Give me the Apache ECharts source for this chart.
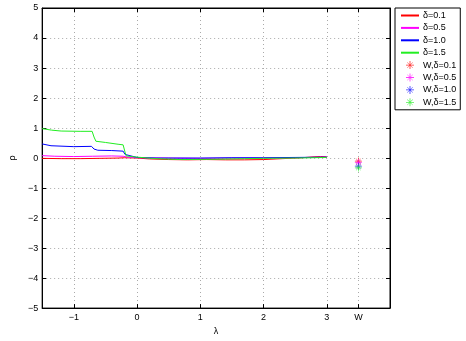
<!DOCTYPE html>
<html>
<head>
<meta charset="utf-8">
<script src="https://cdn.jsdelivr.net/npm/echarts@6/dist/echarts.min.js"></script>
<style>
html, body { margin: 0; padding: 0; background: #fff; }
#main { width: 466px; height: 341px; }
</style>
</head>
<body>
<div id="main"></div>
<script>
// x ticks (W sits at 3.5)
var xTicks = [-1, 0, 1, 2, 3, 3.5];
var W = 3.5;

// curves, [lambda, rho]
var red = [[-1.5,-0.01],[-1.2,-0.02],[-0.9,-0.02],[-0.6,-0.01],[-0.3,0.0],[-0.2,0.01],[0,0.0],[0.2,-0.03],[0.5,-0.05],[0.8,-0.06],[1.1,-0.05],[1.4,-0.06],[1.7,-0.06],[2.0,-0.05],[2.3,-0.02],[2.6,0.01],[2.8,0.04],[2.9,0.05],[3.0,0.04]];
var magenta = [[-1.5,0.08],[-1.3,0.06],[-1.0,0.05],[-0.7,0.06],[-0.4,0.07],[-0.22,0.06],[-0.15,0.03],[0,0.01],[0.5,0.0],[1.0,-0.01],[1.5,0.0],[2.0,0.0],[2.5,0.01],[3.0,0.03]];
var blue = [[-1.5,0.47],[-1.36,0.41],[-1.0,0.38],[-0.72,0.39],[-0.68,0.3],[-0.62,0.26],[-0.4,0.25],[-0.22,0.23],[-0.19,0.12],[-0.16,0.06],[0,0.02],[0.3,0.0],[1.0,0.0],[1.5,0.01],[2.0,0.01],[2.5,0.02],[3.0,0.03]];
var green = [[-1.5,0.98],[-1.35,0.93],[-1.2,0.9],[-0.9,0.89],[-0.71,0.89],[-0.68,0.7],[-0.65,0.56],[-0.5,0.52],[-0.3,0.46],[-0.22,0.44],[-0.19,0.2],[-0.17,0.07],[0,0.03],[0.3,-0.02],[0.7,-0.05],[1.2,-0.04],[1.7,-0.02],[2.0,-0.01],[2.5,0.0],[3.0,0.02]];

// values at W
var wNames = ['W,δ=0.1', 'W,δ=0.5', 'W,δ=1.0', 'W,δ=1.5'];
var wValues = [-0.1, -0.15, -0.27, -0.33];

var lineNames = ['δ=0.1', 'δ=0.5', 'δ=1.0', 'δ=1.5'];
var colors = ['#ff0000', '#ff00ff', '#0000ff', '#22ee22'];

var star = 'path://M0 9L20 9L20 11L0 11Z M9 0L11 0L11 20L9 20Z M2.6 3.4L3.4 2.6L17.4 16.6L16.6 17.4Z M16.6 2.6L17.4 3.4L3.4 17.4L2.6 16.6Z';
var font = 'Liberation Sans';

function fmtNum(v) {
	if (v === W) return 'W';
	return v < 0 ? '\u2212' + Math.abs(v) : '' + v;
}

var myChart = echarts.init(document.getElementById('main'));
var lines = [red, magenta, blue, green];
var series = [];
var legendData = [];
for (var i = 0; i < 4; i++) {
	series.push({
		name: lineNames[i],
		type: 'line',
		data: lines[i],
		symbol: 'none',
		lineStyle: { color: colors[i], width: 1 },
		itemStyle: { color: colors[i] },
		animation: false
	});
	// hide the circle the legend puts on line items
	legendData.push({ name: lineNames[i], itemStyle: { opacity: 0 } });
}
for (var j = 0; j < 4; j++) {
	series.push({
		name: wNames[j],
		type: 'scatter',
		data: [[W, wValues[j]]],
		symbol: star,
		symbolSize: 7,
		itemStyle: { color: colors[j] },
		animation: false
	});
	legendData.push({ name: wNames[j] });
}

var gridStyle = { show: true, lineStyle: { color: '#aaa', type: [1, 3], width: 1 } };
var option = {
	backgroundColor: '#fff',
	textStyle: { fontFamily: font },
	grid: { left: 28, right: 76, top: 8, bottom: 24, show: true, borderColor: '#000', borderWidth: 1 },
	legend: {
		orient: 'vertical',
		left: 395,
		top: 8,
		padding: [3, 4, 3, 5],
		itemWidth: 18,
		itemHeight: 8,
		itemGap: 3.4,
		borderColor: '#000',
		borderWidth: 1,
		backgroundColor: '#fff',
		textStyle: { fontSize: 9, color: '#000', fontFamily: font, padding: [0, 0, 0, -1] },
		data: legendData
	},
	xAxis: [{
		type: 'value',
		min: -1.5,
		max: 4,
		name: 'λ',
		nameLocation: 'middle',
		nameGap: 13,
		nameTextStyle: { fontSize: 9, color: '#000' },
		axisLine: { onZero: false, lineStyle: { color: '#000' } },
		axisTick: { inside: true, length: 4, customValues: xTicks, lineStyle: { color: '#000' } },
		axisLabel: { customValues: xTicks, formatter: fmtNum, fontSize: 9, color: '#000', margin: 5 },
		splitLine: gridStyle
	}, {
		type: 'value',
		position: 'top',
		min: -1.5,
		max: 4,
		axisLine: { onZero: false, lineStyle: { color: '#000' } },
		axisTick: { inside: true, length: 4, customValues: xTicks, lineStyle: { color: '#000' } },
		axisLabel: { show: false },
		splitLine: { show: false }
	}],
	yAxis: [{
		type: 'value',
		min: -5,
		max: 5,
		interval: 1,
		name: 'ρ',
		nameLocation: 'middle',
		nameGap: 22,
		nameRotate: 90,
		nameTextStyle: { fontSize: 9, color: '#000' },
		axisLine: { show: true, onZero: false, lineStyle: { color: '#000' } },
		axisTick: { show: true, inside: true, length: 4, lineStyle: { color: '#000' } },
		axisLabel: { formatter: fmtNum, fontSize: 9, color: '#000', margin: 4 },
		splitLine: gridStyle
	}, {
		type: 'value',
		position: 'right',
		min: -5,
		max: 5,
		interval: 1,
		axisLine: { show: true, onZero: false, lineStyle: { color: '#000' } },
		axisTick: { show: true, inside: true, length: 4, lineStyle: { color: '#000' } },
		axisLabel: { show: false },
		splitLine: { show: false }
	}],
	series: series
};
myChart.setOption(option, true);
</script>
</body>
</html>
